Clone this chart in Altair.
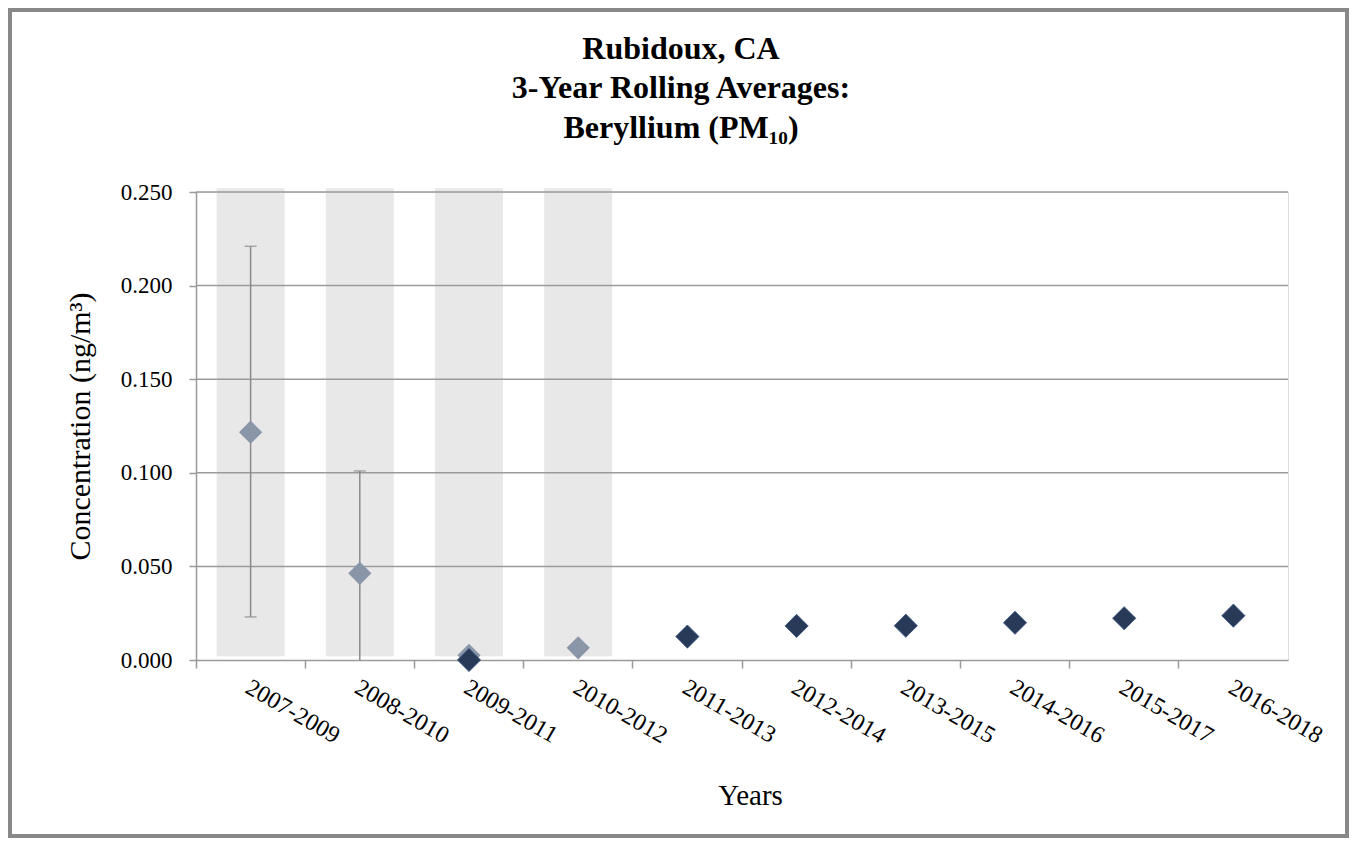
import altair as alt
import pandas as pd

# ---- data ----
periods = ["2007-2009", "2008-2010", "2009-2011", "2010-2012", "2011-2013",
           "2012-2014", "2013-2015", "2014-2016", "2015-2017", "2016-2018"]
prelim_values = [0.1217, 0.0463, 0.0025, 0.0065, None, None, None, None, None, None]
final_values = [None, None, 0.0, None, 0.0125, 0.0182, 0.0183, 0.0199, 0.0223, 0.0237]
err_low = [0.023, 0.0, None, None, None, None, None, None, None, None]
err_high = [0.221, 0.101, None, None, None, None, None, None, None, None]
cap_values = [0.023, 0.221, 0.101]
cap_periods = ["2007-2009", "2007-2009", "2008-2010"]
shaded_periods = ["2007-2009", "2008-2010", "2009-2011", "2010-2012"]
shade_top = 0.252
shade_bottom = 0.002
grid_values = [0.05, 0.10, 0.15, 0.20, 0.25]
y_ticks = [0.0, 0.05, 0.10, 0.15, 0.20, 0.25]

title_lines = ["Rubidoux, CA", "3-Year Rolling Averages:", "Beryllium (PM\u2081\u2080)"]

FONT = "Liberation Serif"
GRID = "#9a9a9a"
W, H = 1092, 468

pts = pd.DataFrame({"period": periods, "prelim": prelim_values, "final": final_values,
                    "low": err_low, "high": err_high})
shade = pd.DataFrame({"period": shaded_periods,
                      "top": [shade_top] * len(shaded_periods),
                      "bottom": [shade_bottom] * len(shaded_periods)})
caps = pd.DataFrame({"period": cap_periods, "v": cap_values})
grid = pd.DataFrame({"g": grid_values})
one = pd.DataFrame({"k": [0]})

xscale = alt.Scale(domain=periods, paddingInner=0, paddingOuter=0)
yscale = alt.Scale(domain=[0, 0.25], nice=False, zero=True)

x_axis = alt.Axis(
    title="Years", titleFont=FONT, titleFontSize=29, titleFontWeight="normal",
    titleColor="black", titlePadding=34, titleX=W / 2 + 8,
    labelFont=FONT, labelFontSize=24, labelColor="black", labelAngle=30,
    labelAlign="left", labelBaseline="top", labelPadding=7, labelOffset=3,
    tickSize=8, tickColor=GRID, tickWidth=1.5, domainColor=GRID, domainWidth=1.5,
    bandPosition=0, grid=False, labelOverlap=False,
)
y_axis = alt.Axis(
    title="Concentration (ng/m\u00b3)", titleFont=FONT, titleFontSize=30,
    titleFontWeight="normal", titleColor="black", titlePadding=25,
    labelFont=FONT, labelFontSize=23, labelColor="black", labelPadding=17,
    values=y_ticks, format=".3f", tickSize=7, tickColor=GRID, tickWidth=1.5,
    domainColor=GRID, domainWidth=1.5, grid=False,
)


def X():
    return alt.X("period:N", scale=xscale, sort=periods, axis=x_axis)


def Y(field):
    return alt.Y(field, scale=yscale, axis=y_axis)


frame = alt.Chart(one).mark_rect(fill="white", fillOpacity=0, stroke="#888888",
                                 strokeWidth=4).encode(
    x=alt.value(-186), x2=alt.value(1151), y=alt.value(-182), y2=alt.value(644)
)

bands = alt.Chart(shade).mark_bar(color="#e8e8e8", size=68).encode(
    x=X(), y=Y("top:Q"), y2="bottom:Q",
)

gridlines = alt.Chart(grid).mark_rule(color=GRID, strokeWidth=1.5).encode(
    y=Y("g:Q")
)

whiskers = alt.Chart(pts).mark_rule(color="#8a8a8a", strokeWidth=1.5).encode(
    x=X(), y=Y("low:Q"), y2="high:Q",
)

capmarks = alt.Chart(caps).mark_tick(color="#8a8a8a", size=12, thickness=1.5,
                                      orient="horizontal").encode(
    x=X(), y=Y("v:Q"),
)

prelim = alt.Chart(pts).mark_point(shape="diamond", filled=True, size=540,
                                   color="#8b95a8", opacity=1).encode(
    x=X(), y=Y("prelim:Q"),
)

final = alt.Chart(pts).mark_point(shape="diamond", filled=True, size=540,
                                  color="#283a58", opacity=1, stroke="#3a5584",
                                  strokeWidth=0.8).encode(
    x=X(), y=Y("final:Q"),
)

title_layers = []
for line, yy in zip(title_lines, [-133, -94, -54]):
    title_layers.append(
        alt.Chart(one).mark_text(font=FONT, fontSize=32, fontWeight="bold",
                                 color="black", align="center",
                                 baseline="alphabetic").encode(
            x=alt.value(485), y=alt.value(yy), text=alt.value(line)
        )
    )

chart = alt.layer(bands, gridlines, whiskers, capmarks, prelim, final, frame,
                  *title_layers).properties(
    width=W, height=H, padding=0
).configure_view(stroke=None).configure(background="white")

chart.save("out.html", embed_options={"renderer": "svg", "actions": False})
